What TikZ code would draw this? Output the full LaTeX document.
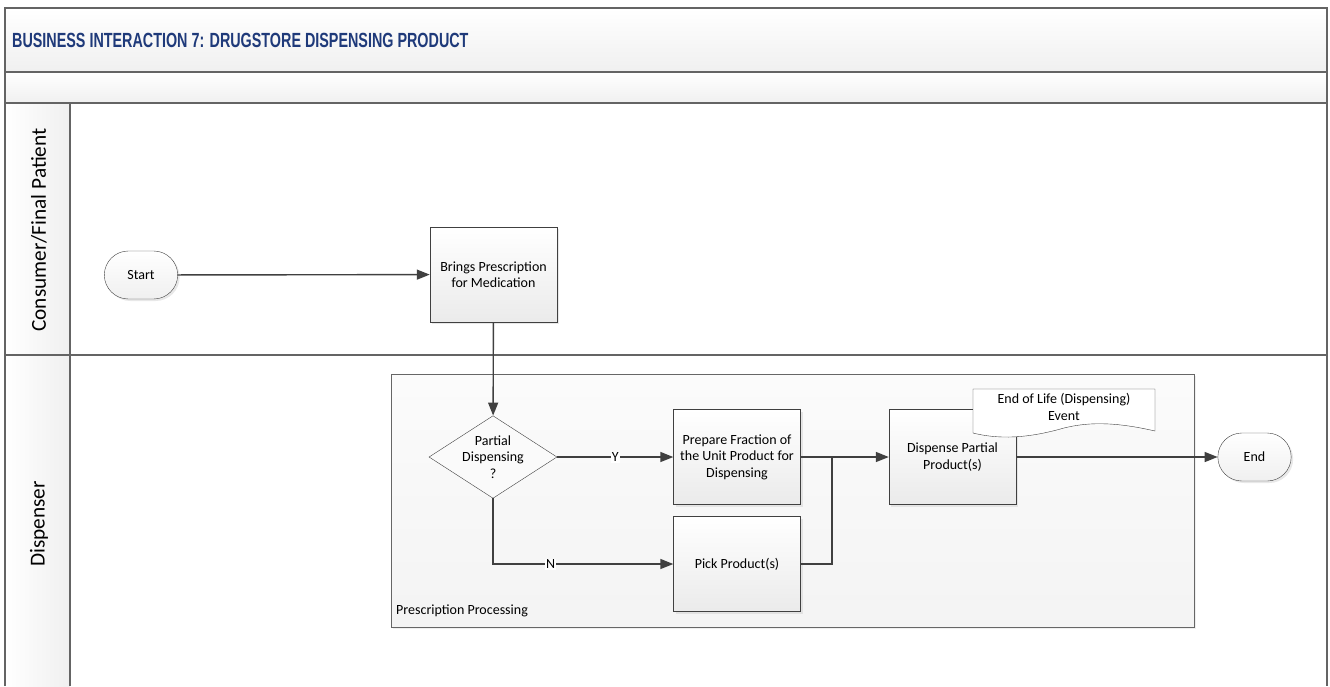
\documentclass[tikz,border=0pt]{standalone}
\usepackage{fontspec}
\setmainfont{Carlito}
\newfontfamily\titlefont{Liberation Sans}
\usepackage{tikz}
\usetikzlibrary{calc,shapes,shadows,arrows.meta,positioning}
\definecolor{titleblue}{RGB}{31,58,122}
\definecolor{framegray}{RGB}{100,100,100}
\definecolor{linegray}{RGB}{64,64,64}

\begin{document}
\begin{tikzpicture}[x=1pt, y=-1pt,
    flow/.style={draw=linegray, line width=1.4pt, -{Triangle[length=13pt,width=10pt]}},
    wire/.style={draw=linegray, line width=1.4pt},
    proc/.style={draw=linegray, rectangle, minimum width=127pt, minimum height=95pt,
      top color=white, bottom color=gray!16, align=center, font=\fontsize{14}{16.5}\selectfont,
      drop shadow={shadow xshift=2pt, shadow yshift=-2pt, fill=gray!35}},
    term/.style={draw=linegray, rounded rectangle, minimum width=80pt, minimum height=48pt,
      top color=white, bottom color=gray!12, font=\fontsize{14}{16.5}\selectfont,
      drop shadow={shadow xshift=2pt, shadow yshift=-2pt, fill=gray!35}},
    lbl/.style={fill=white, inner sep=1pt, font=\fontsize{14}{15}\selectfont},
    lane/.style={rotate=90, font=\fontsize{21.3}{24}\selectfont}]
  \useasboundingbox (0,0) rectangle (1330,686);

  % bands and lanes
  \fill[top color=white, bottom color=gray!12] (5,8) rectangle (1327,72);
  \fill[top color=white, bottom color=gray!12] (5,72) rectangle (1327,103);
  \fill[left color=white, right color=gray!12] (5,103) rectangle (70,686);
  \draw[framegray, line width=2pt] (5,686) -- (5,8) -- (1327,8) -- (1327,686);
  \draw[framegray, line width=1.6pt] (5,72) -- (1327,72) (5,103) -- (1327,103) (5,355) -- (1327,355);
  \draw[framegray, line width=1.6pt] (70,103) -- (70,686);

  \node[anchor=west, inner sep=0pt, text=titleblue, font=\titlefont\bfseries\fontsize{20.5}{24}\selectfont] (title) at (12,40)
    {\scalebox{0.7}[1]{BUSINESS INTERACTION 7: DRUGSTORE DISPENSING PRODUCT}};
  \node[lane] (consumer) at (39,230) {Consumer/Final Patient};
  \node[lane] (dispenser) at (39,524) {Dispenser};

  % container
  \node[draw=gray!80!black, rectangle, minimum width=803pt, minimum height=253pt,
    top color=gray!3, bottom color=gray!9,
    drop shadow={shadow xshift=2pt, shadow yshift=-2pt, fill=gray!25}] (cont) at (792.5,500.5) {};
  \node[anchor=south west, inner sep=0pt, font=\fontsize{14}{16}\selectfont] (contlbl) at (396,617) {Prescription Processing};

  % flow nodes
  \node[term] (start) at (141,275) {Start};
  \node[proc] (brings) at (493.5,274.5) {Brings Prescription\\for Medication};
  \node[draw=linegray, diamond, aspect=1.55, minimum width=124pt, minimum height=80pt, inner sep=0pt,
    fill=gray!4, align=center, font=\fontsize{14}{16.5}\selectfont] (dec) at (493,457) {Partial\\Dispensing\\?};
  \node[proc] (prep) at (737,457) {Prepare Fraction of\\the Unit Product for\\Dispensing};
  \node[proc] (pick) at (737,564) {Pick Product(s)};
  \node[proc] (disp) at (952.5,457) {Dispense Partial\\Product(s)};
  \node[term] (end) at (1254.5,457) {End};

  % event note
  \draw[draw=linegray, fill=white] (973,389) -- (1155,389) -- (1155,431)
    .. controls (1120,423) and (1092,421) .. (1064,428)
    .. controls (1036,436) and (1005,441) .. (973,433) -- cycle;
  \node[align=center, font=\fontsize{14}{16.5}\selectfont] (evt) at (1064,407) {End of Life (Dispensing)\\Event};

  % connectors
  \coordinate (jn) at (832,457);
  \draw[flow] (start) -- (brings);
  \draw[flow] (brings) -- (dec);
  \draw[flow] (dec) -- node[lbl] {Y} (prep);
  \draw[flow] (dec.south) |- node[lbl, pos=0.66] {N} (pick);
  \draw[wire] (prep) -- (jn);
  \draw[wire] (pick) -| (jn);
  \draw[flow] (jn) -- (disp);
  \draw[flow] (disp) -- (end);
\end{tikzpicture}
\end{document}
